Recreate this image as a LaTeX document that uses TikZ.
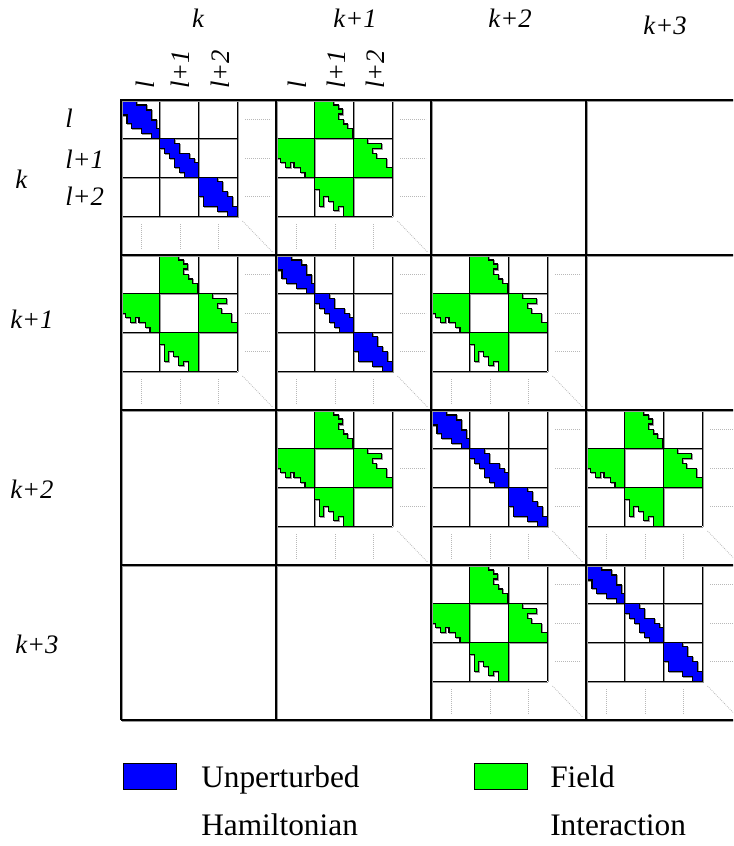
\documentclass[tikz,border=0pt]{standalone}
\usepackage{fontspec}
\setmainfont{Liberation Serif}
\begin{document}
\begin{tikzpicture}[x=0.75pt,y=-0.75pt,
  bluefill/.style={fill={rgb,255:red,0;green,0;blue,255},draw=black,line width=0.8pt,line join=miter},
  greenfill/.style={fill={rgb,255:red,0;green,255;blue,0},draw=black,line width=0.8pt,line join=miter},
  gridline/.style={draw=black,line width=0.8pt},
  shadowline/.style={draw=black!40,line width=0.8pt},
  dotline/.style={draw=black!28,line width=0.6pt,dash pattern=on 0.6pt off 0.9pt},
  lab/.style={font=\fontsize{20}{24}\selectfont\itshape,inner sep=0pt},
  legtext/.style={font=\fontsize{23.5}{28}\selectfont,inner sep=0pt,anchor=base west}]
\useasboundingbox (0,0) rectangle (733,846);
\clip (0,0) rectangle (733,846);
\def\SubGrid{(38.75,0) -- (38.75,116.25) (77.5,0) -- (77.5,116.25) (116.25,0) -- (116.25,116.25) (0,38.75) -- (116.25,38.75) (0,77.5) -- (116.25,77.5) (0,116.25) -- (116.25,116.25)}
\def\BlueA{(0,0) -- (15.5,0) -- (15.5,5) -- (25.5,5) -- (25.5,10) -- (30.5,10) -- (30.5,20) -- (35.5,20) -- (35.5,28.5) -- (38.75,28.5) -- (38.75,38.75) -- (30.5,38.75) -- (30.5,33.5) -- (20.5,33.5) -- (20.5,28.5) -- (10.5,28.5) -- (10.5,23.5) -- (6,23.5) -- (6,15) -- (0,15) -- cycle}
\def\BlueB{(0,0) -- (15,0) -- (15,4.3) -- (20,4.3) -- (20,14.3) -- (30,14.3) -- (30,19.3) -- (35,19.3) -- (35,23.7) -- (38.75,23.7) -- (38.75,38.75) -- (25,38.75) -- (25,33.3) -- (20,33.3) -- (20,28.3) -- (15,28.3) -- (15,19.3) -- (10,19.3) -- (10,14.3) -- (5,14.3) -- (5,9.3) -- (0,9.3) -- cycle}
\def\BlueC{(0,0) -- (19.3,0) -- (19.3,4.3) -- (24.3,4.3) -- (24.3,13.7) -- (29.3,13.7) -- (29.3,18.7) -- (34.3,18.7) -- (34.3,28.7) -- (38.75,28.7) -- (38.75,38.75) -- (29.3,38.75) -- (29.3,33.7) -- (19.3,33.7) -- (19.3,28.7) -- (5.3,28.7) -- (5.3,18.7) -- (0,18.7) -- cycle}
\def\GreenA{(0,0) -- (19,0) -- (19,5) -- (24,5) -- (24,9) -- (27.3,9) -- (27.3,14) -- (24,14) -- (24,19.3) -- (29,19.3) -- (29,24) -- (32.3,24) -- (32.3,28.3) -- (37.5,28.3) -- (37.5,38.75) -- (0,38.75) -- cycle}
\def\GreenB{(0,0) -- (38.75,0) -- (38.75,38.75) -- (29,38.75) -- (29,33.3) -- (24.7,33.3) -- (24.7,28.3) -- (18,28.3) -- (18,23.7) -- (14.7,23.7) -- (14.7,28.3) -- (9.7,28.3) -- (9.7,23.7) -- (4.7,23.7) -- (4.7,19.3) -- (0,19.3) -- cycle}
\def\GreenC{(0,0) -- (14.3,0) -- (14.3,4.3) -- (28.3,4.3) -- (28.3,9.3) -- (19,9.3) -- (19,14.3) -- (23.3,14.3) -- (23.3,19.3) -- (33.3,19.3) -- (33.3,28.3) -- (38.75,28.3) -- (38.75,38.75) -- (0,38.75) -- cycle}
\def\GreenD{(0,0) -- (38.75,0) -- (38.75,38.75) -- (29,38.75) -- (29,28.7) -- (24,28.7) -- (24,32.7) -- (19,32.7) -- (19,23.7) -- (14,23.7) -- (14,18.7) -- (9,18.7) -- (9,28.7) -- (4.7,28.7) -- (4.7,12) -- (0,12) -- cycle}
\newcommand{\FrameBack}{%
  \draw[dotline] (124,19.375) -- (150,19.375) (124,58.125) -- (150,58.125) (124,96.875) -- (150,96.875);
  \draw[dotline] (20,124) -- (20,149) (59,124) -- (59,149) (97.5,124) -- (97.5,149);
  \draw[dotline] (121.5,121) -- (152,152.5);
  \draw[shadowline,shift={(1,1)}] \SubGrid;}
\newcommand{\FrameFront}{\draw[gridline] \SubGrid;}
% diagonal blocks (unperturbed Hamiltonian)
\foreach \i in {0,1,2,3} {
  \begin{scope}[shift={(121+155*\i,100+155*\i)}]
    \FrameBack
    \draw[shadowline,shift={(1,1)}] \BlueA;
    \path[bluefill] \BlueA;
    \draw[shadowline,shift={(39.75,39.75)}] \BlueB;
    \path[bluefill,shift={(38.75,38.75)}] \BlueB;
    \draw[shadowline,shift={(78.5,78.5)}] \BlueC;
    \path[bluefill,shift={(77.5,77.5)}] \BlueC;
    \FrameFront
  \end{scope}
}
% off-diagonal blocks (field interaction)
\foreach \i/\j in {0/1,1/0,1/2,2/1,2/3,3/2} {
  \begin{scope}[shift={(121+155*\j,100+155*\i)}]
    \FrameBack
    \draw[shadowline,shift={(39.75,1)}] \GreenA;
    \path[greenfill,shift={(38.75,0)}] \GreenA;
    \draw[shadowline,shift={(1,39.75)}] \GreenB;
    \path[greenfill,shift={(0,38.75)}] \GreenB;
    \draw[shadowline,shift={(78.5,39.75)}] \GreenC;
    \path[greenfill,shift={(77.5,38.75)}] \GreenC;
    \draw[shadowline,shift={(39.75,78.5)}] \GreenD;
    \path[greenfill,shift={(38.75,77.5)}] \GreenD;
    \FrameFront
  \end{scope}
}
% big grid
\foreach \t in {0,1,2,3,4} {
  \draw[shadowline] (122+155*\t,101) -- (122+155*\t,721);
  \draw[shadowline] (122,101+155*\t) -- (742,101+155*\t);
}
\foreach \t in {0,1,2,3,4} {
  \draw[gridline] (121+155*\t,100) -- (121+155*\t,720);
  \draw[gridline] (121,100+155*\t) -- (741,100+155*\t);
}
% column labels
\node[lab,anchor=base] (ck0) at (198,27) {k};
\node[lab,anchor=base] (ck1) at (355,27) {k+1};
\node[lab,anchor=base] (ck2) at (510,27) {k+2};
\node[lab,anchor=base] (ck3) at (665,34) {k+3};
% row labels
\node[lab,anchor=base west] (rk0) at (15,188) {k};
\node[lab,anchor=base west] (rk1) at (10,328) {k+1};
\node[lab,anchor=base west] (rk2) at (10,498) {k+2};
\node[lab,anchor=base west] (rk3) at (15,653) {k+3};
% sub-row labels
\node[lab,anchor=base west] (rl0) at (65,127) {l};
\node[lab,anchor=base west] (rl1) at (65,168) {l+1};
\node[lab,anchor=base west] (rl2) at (65,205) {l+2};
% rotated sub-column labels
\node[lab,anchor=west,rotate=90] (al0) at (145,89) {l};
\node[lab,anchor=west,rotate=90] (al1) at (180,89) {l+1};
\node[lab,anchor=west,rotate=90] (al2) at (220,89) {l+2};
\node[lab,anchor=west,rotate=90] (bl0) at (297,89) {l};
\node[lab,anchor=west,rotate=90] (bl1) at (336,89) {l+1};
\node[lab,anchor=west,rotate=90] (bl2) at (375,89) {l+2};
% legend
\path[bluefill,line width=0.6pt] (123,763) rectangle (176,789);
\path[greenfill,line width=0.6pt] (474,763) rectangle (527,789);
\node[legtext] (lu) at (201,787) {Unperturbed};
\node[legtext] (lh) at (201,835) {Hamiltonian};
\node[legtext] (lf) at (550,787) {Field};
\node[legtext] (li) at (550,835) {Interaction};
\end{tikzpicture}
\end{document}
